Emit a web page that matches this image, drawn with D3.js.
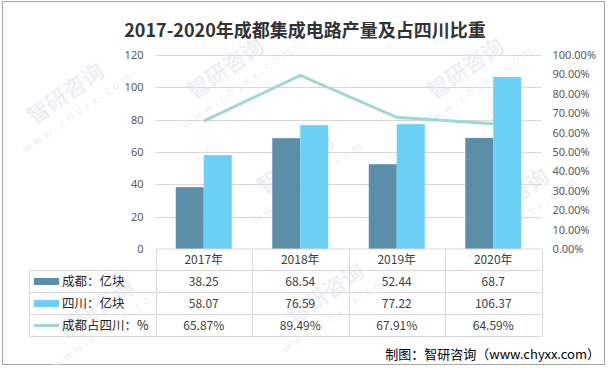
<!DOCTYPE html>
<html>
<head>
<meta charset="utf-8">
<script src="https://cdn.jsdelivr.net/npm/d3@7"></script>
<style>
  body { margin: 0; background: #fff; }
  svg { display: block; font-family: "Noto Sans CJK SC", "Noto Sans", sans-serif; }
</style>
</head>
<body>
<div id="chart"></div>
<script>
// Data
const years = ["2017年", "2018年", "2019年", "2020年"];
const chengdu = [38.25, 68.54, 52.44, 68.7];
const sichuan = [58.07, 76.59, 77.22, 106.37];
const share = [0.6587, 0.8949, 0.6791, 0.6459];
const shareLabels = ["65.87%", "89.49%", "67.91%", "64.59%"];
const leftTicks = [0, 20, 40, 60, 80, 100, 120];
const rightTicks = [0, 0.1, 0.2, 0.3, 0.4, 0.5, 0.6, 0.7, 0.8, 0.9, 1];

const seriesNames = ["成都：亿块", "四川：亿块", "成都占四川：%"];
const colors = ["#5b8fa7", "#6ccff6", "#9fd8d0"];

const width = 610, height = 370;
const plot = { left: 155.5, right: 541.5, top: 55, bottom: 249 };

const svg = d3.select("#chart").append("svg")
  .attr("width", width)
  .attr("height", height);

// outer frame
svg.append("rect")
  .attr("x", 2.5).attr("y", 1.5)
  .attr("width", 602).attr("height", 363)
  .attr("fill", "#fff")
  .attr("stroke", "#a6a6a6");

// faint watermarks
const marks = [[70, 100], [230, 75], [470, 75], [100, 315], [330, 300], [515, 205], [300, 170]];
for (const [mx, my] of marks) {
  const wm = svg.append("g")
    .attr("transform", `translate(${mx},${my}) rotate(-35)`)
    .attr("fill", "#eef0f4");
  wm.append("text").attr("font-size", 22).attr("font-weight", "bold").attr("text-anchor", "middle").text("智研咨询");
  wm.append("text").attr("y", 18).attr("font-size", 11).attr("text-anchor", "middle").attr("letter-spacing", 4).text("www.chyxx.com");
}

// title
svg.append("text")
  .attr("x", 305).attr("y", 37)
  .attr("text-anchor", "middle")
  .attr("font-size", 18)
  .attr("font-weight", "bold")
  .attr("fill", "#333")
  .text("2017-2020年成都集成电路产量及占四川比重");

const x = d3.scaleBand().domain(years).range([plot.left, plot.right]);
const x1 = d3.scaleBand().domain([0, 1])
  .range([x.bandwidth() * 0.21, x.bandwidth() * 0.79]);
const y = d3.scaleLinear().domain([0, 120]).range([plot.bottom, plot.top]);
const y2 = d3.scaleLinear().domain([0, 1]).range([plot.bottom, plot.top]);

// gridlines
svg.append("g")
  .selectAll("line")
  .data(leftTicks.slice(1))
  .join("line")
  .attr("x1", plot.left).attr("x2", plot.right)
  .attr("y1", d => Math.round(y(d)) + 0.5).attr("y2", d => Math.round(y(d)) + 0.5)
  .attr("stroke", "#d9d9d9");

// left axis
const leftAxis = svg.append("g")
  .attr("transform", `translate(${plot.left - 12},0)`)
  .call(d3.axisLeft(y).tickValues(leftTicks).tickSize(0).tickPadding(0));
leftAxis.select(".domain").remove();
leftAxis.selectAll("text").attr("font-size", 11).attr("fill", "#595959")
  .attr("font-family", "'Noto Sans', sans-serif");

// right axis
const rightAxis = svg.append("g")
  .attr("transform", `translate(${plot.right + 11},0)`)
  .call(d3.axisRight(y2).tickValues(rightTicks).tickFormat(d3.format(".2%")).tickSize(0).tickPadding(0));
rightAxis.select(".domain").remove();
rightAxis.selectAll("text").attr("font-size", 11).attr("fill", "#595959")
  .attr("font-family", "'Noto Sans', sans-serif");

// bars
const groups = svg.append("g")
  .selectAll("g")
  .data(years.map((yr, i) => ({ yr, vals: [chengdu[i], sichuan[i]] })))
  .join("g")
  .attr("transform", d => `translate(${x(d.yr)},0)`);

groups.selectAll("rect")
  .data(d => d.vals.map((v, k) => ({ v, k })))
  .join("rect")
  .attr("x", d => x1(d.k))
  .attr("width", x1.bandwidth())
  .attr("y", d => y(d.v))
  .attr("height", d => y(0) - y(d.v))
  .attr("fill", d => colors[d.k]);

// share line
const line = d3.line()
  .x((d, i) => x(years[i]) + x.bandwidth() / 2)
  .y(d => y2(d));
svg.append("path")
  .datum(share)
  .attr("d", line)
  .attr("fill", "none")
  .attr("stroke", colors[2])
  .attr("stroke-width", 3);

// data table
const rowTop = [249, 270.5, 292.5, 314.5, 336.5];
const tableLeft = 29.5;
const grid = svg.append("g").attr("stroke", "#d9d9d9").attr("fill", "none");

rowTop.forEach((ry, i) => {
  grid.append("line")
    .attr("x1", i === 0 ? plot.left : tableLeft).attr("x2", plot.right)
    .attr("y1", ry).attr("y2", ry);
});
const colX = years.map(yr => x(yr)).concat([plot.right]);
colX.forEach(cx => {
  grid.append("line")
    .attr("x1", Math.round(cx) + 0.5).attr("x2", Math.round(cx) + 0.5)
    .attr("y1", rowTop[0]).attr("y2", rowTop[4]);
});
grid.append("line")
  .attr("x1", tableLeft).attr("x2", tableLeft)
  .attr("y1", rowTop[1]).attr("y2", rowTop[4]);

// header years
svg.append("g")
  .selectAll("text")
  .data(years)
  .join("text")
  .attr("x", d => x(d) + x.bandwidth() / 2)
  .attr("y", (rowTop[0] + rowTop[1]) / 2 + 4.5)
  .attr("text-anchor", "middle")
  .attr("font-size", 12)
  .attr("fill", "#404040")
  .text(d => d);

// table values
const tableRows = [
  chengdu.map(String),
  sichuan.map(String),
  shareLabels
];
tableRows.forEach((vals, r) => {
  const cy = (rowTop[r + 1] + rowTop[r + 2]) / 2;
  svg.append("g")
    .selectAll("text")
    .data(vals)
    .join("text")
    .attr("x", (d, i) => x(years[i]) + x.bandwidth() / 2)
    .attr("y", cy + 4.5)
    .attr("text-anchor", "middle")
    .attr("font-size", 12)
    .attr("fill", "#404040")
    .text(d => d);

  // legend key
  if (r < 2) {
    svg.append("rect")
      .attr("x", 34).attr("y", cy - 3.5)
      .attr("width", 25).attr("height", 7)
      .attr("fill", colors[r]);
  } else {
    svg.append("line")
      .attr("x1", 34).attr("x2", 59)
      .attr("y1", cy).attr("y2", cy)
      .attr("stroke", colors[2]).attr("stroke-width", 3);
  }
  svg.append("text")
    .attr("x", 62).attr("y", cy + 4.5)
    .attr("font-size", 12.5)
    .attr("fill", "#262626")
    .text(seriesNames[r]);
});

// source note
svg.append("text")
  .attr("x", 600).attr("y", 359)
  .attr("text-anchor", "end")
  .attr("font-size", 13)
  .attr("fill", "#000")
  .text("制图：智研咨询（www.chyxx.com）");
</script>
</body>
</html>
